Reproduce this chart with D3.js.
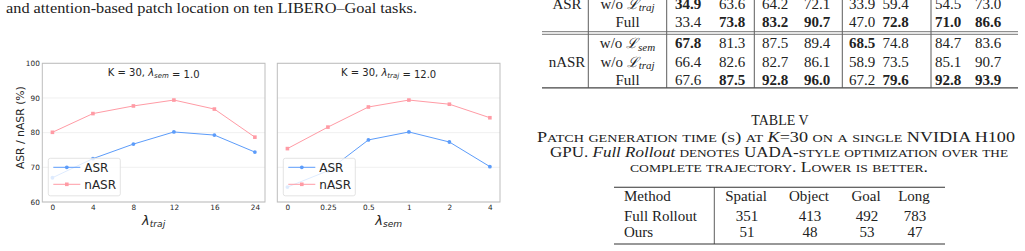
<!DOCTYPE html>
<html>
<head>
<meta charset="utf-8">
<script src="https://cdn.jsdelivr.net/npm/d3@7"></script>
<style>
  body { margin: 0; background: #fff; }
  svg { display: block; }
  .serif { font-family: "Liberation Serif", "Times New Roman", serif; fill: #222; }
  .sans { font-family: "DejaVu Sans", sans-serif; fill: #262626; }
</style>
</head>
<body>
<svg id="page" width="1025" height="251"></svg>
<script>
// ---- chart data ----
const trajTicks = ["0", "4", "8", "12", "16", "24"];
const trajASR = [67.0, 72.5, 76.7, 80.2, 79.3, 74.4];
const trajNASR = [80.1, 85.5, 87.7, 89.4, 86.8, 78.7];

const semTicks = ["0", "0.25", "0.5", "1", "2", "4"];
const semASR = [64.3, 69.0, 77.9, 80.2, 77.3, 70.2];
const semNASR = [75.4, 81.6, 87.4, 89.4, 88.2, 84.3];

const yTicks = [60, 70, 80, 90, 100];

// ---- ablation table (bottom part) ----
const ablMetric = ["ASR", "", "", "nASR", ""];
const ablLabel = ["traj", "Full", "sem", "traj", "Full"];
const ablValues = [
  [34.9, 63.6, 64.2, 72.1, 33.9, 59.4, 54.5, 73.0],
  [33.4, 73.8, 83.2, 90.7, 47.0, 72.8, 71.0, 86.6],
  [67.8, 81.3, 87.5, 89.4, 68.5, 74.8, 84.7, 83.6],
  [66.4, 82.6, 82.7, 86.1, 58.9, 73.5, 85.1, 90.7],
  [67.6, 87.5, 92.8, 96.0, 67.2, 79.6, 92.8, 93.9]
];
const ablBold = [
  [1, 0, 0, 0, 0, 0, 0, 0],
  [0, 1, 1, 1, 0, 1, 1, 1],
  [1, 0, 0, 0, 1, 0, 0, 0],
  [0, 0, 0, 0, 0, 0, 0, 0],
  [0, 1, 1, 1, 0, 1, 1, 1]
];

// ---- timing table ----
const timeHeader = ["Method", "Spatial", "Object", "Goal", "Long"];
const timeMethods = ["Full Rollout", "Ours"];
const timeValues = [[351, 413, 492, 783], [51, 48, 53, 47]];

const blue = "#5c9cfa";
const pink = "#ff9ba5";

const svg = d3.select("#page");

// paragraph line at top left
svg.append("text").attr("class", "serif")
  .attr("x", 6).attr("y", 12.5).attr("font-size", 15)
  .attr("textLength", 411).attr("lengthAdjust", "spacingAndGlyphs")
  .text("and attention-based patch location on ten LIBERO\u2013Goal tasks.");

// mathtext helper: lambda with subscript
function lambdaSub(sel, sub, size) {
  sel.append("tspan").attr("font-style", "italic").text("\u03bb");
  sel.append("tspan").attr("font-style", "italic").attr("font-size", size * 0.7)
    .attr("dy", size * 0.22).text(sub);
  sel.append("tspan").attr("dy", -size * 0.22).text("");
}

// LaTeX-like small caps: lowercase runs drawn as smaller capitals
function smallCaps(sel, str, size) {
  str.split(/([a-z]+)/).forEach(part => {
    if (!part) return;
    const sc = /^[a-z]+$/.test(part);
    sel.append("tspan").attr("font-size", sc ? size * 0.78 : size)
      .text(sc ? part.toUpperCase() : part);
  });
}

function drawPanel(left, xTicks, asr, nasr, titleSub, titleVal, xSub, showY) {
  const right = left + 222.7, top = 63.3, bottom = 202;
  const x = d3.scalePoint().domain(xTicks).range([left, right]).padding(0.25);
  const y = d3.scaleLinear().domain([60, 100]).range([bottom, top]);
  const g = svg.append("g");

  // grid
  g.selectAll(".grid").data(yTicks).join("line")
    .attr("x1", left).attr("x2", right)
    .attr("y1", d => y(d)).attr("y2", d => y(d))
    .attr("stroke", "#ececec").attr("stroke-width", 0.8);

  // frame
  g.append("rect").attr("x", left).attr("y", top)
    .attr("width", right - left).attr("height", bottom - top)
    .attr("fill", "none").attr("stroke", "#bdbdbd").attr("stroke-width", 1);

  // axes (labels only, no tick marks)
  const xa = g.append("g").attr("transform", `translate(0,${bottom})`)
    .call(d3.axisBottom(x).tickSize(0).tickPadding(2.5));
  xa.select(".domain").remove();
  xa.selectAll("text").attr("font-family", "DejaVu Sans").attr("font-size", 7.3).attr("fill", "#262626");

  if (showY) {
    const ya = g.append("g").attr("transform", `translate(${left},0)`)
      .call(d3.axisLeft(y).tickValues(yTicks).tickSize(0).tickPadding(2.5));
    ya.select(".domain").remove();
    ya.selectAll("text").attr("font-family", "DejaVu Sans").attr("font-size", 7.3).attr("fill", "#262626");

    svg.append("text").attr("class", "sans").attr("font-size", 10.8)
      .attr("text-anchor", "middle")
      .attr("transform", `translate(24,${(top + bottom) / 2 - 5}) rotate(-90)`)
      .text("ASR / nASR (%)");
  }

  const line = d3.line().x((d, i) => x(xTicks[i])).y(d => y(d));
  g.append("path").datum(nasr).attr("d", line).attr("fill", "none")
    .attr("stroke", pink).attr("stroke-width", 1);
  g.append("path").datum(asr).attr("d", line).attr("fill", "none")
    .attr("stroke", blue).attr("stroke-width", 1);
  g.selectAll(".pm").data(nasr).join("rect")
    .attr("x", (d, i) => x(xTicks[i]) - 1.8).attr("y", d => y(d) - 1.8)
    .attr("width", 3.6).attr("height", 3.6).attr("fill", pink);
  g.selectAll(".bm").data(asr).join("circle")
    .attr("cx", (d, i) => x(xTicks[i])).attr("cy", d => y(d))
    .attr("r", 1.9).attr("fill", blue);

  // title inside plot
  const t = g.append("text").attr("class", "sans").attr("font-size", 10)
    .attr("x", (left + right) / 2).attr("y", 75.7).attr("text-anchor", "middle");
  t.append("tspan").text("K = 30,  ");
  lambdaSub(t, titleSub, 10);
  t.append("tspan").text(" = " + titleVal);

  // x label
  const xl = g.append("text").attr("class", "sans").attr("font-size", 13)
    .attr("x", (left + right) / 2).attr("y", 224.5).attr("text-anchor", "middle");
  lambdaSub(xl, xSub, 13);

  // legend
  const lx = left + 6, ly = 158.3;
  const lg = g.append("g");
  lg.append("rect").attr("x", lx).attr("y", ly).attr("width", 72).attr("height", 37.5)
    .attr("rx", 2).attr("fill", "#fff").attr("fill-opacity", 0.8)
    .attr("stroke", "#dcdcdc").attr("stroke-width", 0.8);
  [["ASR", blue, "c"], ["nASR", pink, "s"]].forEach((e, i) => {
    const yy = ly + 9 + i * 17;
    lg.append("line").attr("x1", lx + 5).attr("x2", lx + 32).attr("y1", yy).attr("y2", yy)
      .attr("stroke", e[1]).attr("stroke-width", 1);
    if (e[2] === "c") lg.append("circle").attr("cx", lx + 18.5).attr("cy", yy).attr("r", 1.9).attr("fill", e[1]);
    else lg.append("rect").attr("x", lx + 16.7).attr("y", yy - 1.8).attr("width", 3.6).attr("height", 3.6).attr("fill", e[1]);
    lg.append("text").attr("class", "sans").attr("font-size", 12)
      .attr("x", lx + 36).attr("y", yy + 4.3).text(e[0]);
  });
}

drawPanel(42.3, trajTicks, trajASR, trajNASR, "sem", "1.0", "traj", true);
drawPanel(277.3, semTicks, semASR, semNASR, "traj", "12.0", "sem", false);

// ---- ablation table ----
const tbl = svg.append("g");
const colX = [688, 732, 775, 817, 862, 895.5, 948, 988];
const rowY = [8.5, 26.7, 48.3, 66.7, 85];
const vLines = [588.3, 666.7, 754.3, 842.3, 931];
vLines.forEach(vx => tbl.append("line").attr("x1", vx).attr("x2", vx)
  .attr("y1", 0).attr("y2", 87.7).attr("stroke", "#333").attr("stroke-width", 0.8));
[31.7, 34.3].forEach(hy => tbl.append("line").attr("x1", 542).attr("x2", 1018)
  .attr("y1", hy).attr("y2", hy).attr("stroke", "#666").attr("stroke-width", 0.9));
tbl.append("line").attr("x1", 542).attr("x2", 1018).attr("y1", 87.9).attr("y2", 87.9)
  .attr("stroke", "#444").attr("stroke-width", 1.2);

ablValues.forEach((row, r) => {
  if (ablMetric[r]) tbl.append("text").attr("class", "serif").attr("font-size", 15)
    .attr("x", 567).attr("y", rowY[r]).attr("text-anchor", "middle").text(ablMetric[r]);
  const lab = tbl.append("text").attr("class", "serif").attr("font-size", 15)
    .attr("x", 627.5).attr("y", rowY[r]).attr("text-anchor", "middle");
  if (ablLabel[r] === "Full") lab.text("Full");
  else {
    lab.append("tspan").text("w/o ");
    lab.append("tspan").attr("font-family", "DejaVu Serif").attr("font-style", "italic")
      .attr("font-size", 14).text("\u2112");
    lab.append("tspan").attr("font-style", "italic").attr("font-size", 11)
      .attr("dy", 2.5).text(ablLabel[r] === "traj" ? "traj" : "sem");
  }
  row.forEach((v, c) => {
    tbl.append("text").attr("class", "serif").attr("font-size", 15)
      .attr("x", colX[c]).attr("y", rowY[r]).attr("text-anchor", "middle")
      .attr("font-weight", ablBold[r][c] ? "bold" : "normal").text(v.toFixed(1));
  });
});

// ---- caption ----
const cap = svg.append("g");
cap.append("text").attr("class", "serif").attr("font-size", 14)
  .attr("x", 780).attr("y", 125).attr("text-anchor", "middle").text("TABLE V");

const c1 = cap.append("text").attr("class", "serif").attr("font-size", 14.5)
  .attr("x", 537).attr("y", 141.5).attr("textLength", 478).attr("lengthAdjust", "spacingAndGlyphs");
smallCaps(c1, "Patch generation time (s) at ", 14.5);
c1.append("tspan").attr("font-style", "italic").text("K");
c1.append("tspan").text("=30");
smallCaps(c1, " on a single NVIDIA H100", 14.5);

const c2 = cap.append("text").attr("class", "serif").attr("font-size", 14.5)
  .attr("x", 550).attr("y", 157).attr("textLength", 458).attr("lengthAdjust", "spacingAndGlyphs");
smallCaps(c2, "GPU. ", 14.5);
c2.append("tspan").attr("font-style", "italic").text("Full Rollout");
smallCaps(c2, " denotes UADA-style optimization over the", 14.5);

const c3 = cap.append("text").attr("class", "serif").attr("font-size", 14.5)
  .attr("x", 630).attr("y", 171.5).attr("textLength", 298).attr("lengthAdjust", "spacingAndGlyphs");
smallCaps(c3, "complete trajectory. Lower is better.", 14.5);

// ---- timing table ----
const tt = svg.append("g");
const tCols = [746, 809, 866, 914];
const tRows = [201, 220.5, 236.5];
tt.append("line").attr("x1", 614).attr("x2", 945).attr("y1", 187.3).attr("y2", 187.3)
  .attr("stroke", "#333").attr("stroke-width", 1.1);
tt.append("line").attr("x1", 614).attr("x2", 945).attr("y1", 244).attr("y2", 244)
  .attr("stroke", "#333").attr("stroke-width", 1.1);
tt.append("line").attr("x1", 714.3).attr("x2", 714.3).attr("y1", 187.3).attr("y2", 244)
  .attr("stroke", "#333").attr("stroke-width", 0.8);
tt.append("text").attr("class", "serif").attr("font-size", 15)
  .attr("x", 624).attr("y", tRows[0]).text(timeHeader[0]);
timeHeader.slice(1).forEach((h, i) => tt.append("text").attr("class", "serif")
  .attr("font-size", 15).attr("x", tCols[i]).attr("y", tRows[0])
  .attr("text-anchor", "middle").text(h));
timeMethods.forEach((m, r) => {
  tt.append("text").attr("class", "serif").attr("font-size", 15)
    .attr("x", 624).attr("y", tRows[r + 1]).text(m);
  timeValues[r].forEach((v, c) => tt.append("text").attr("class", "serif")
    .attr("font-size", 15).attr("x", tCols[c] + 1).attr("y", tRows[r + 1])
    .attr("text-anchor", "middle").text(v));
});
</script>
</body>
</html>
